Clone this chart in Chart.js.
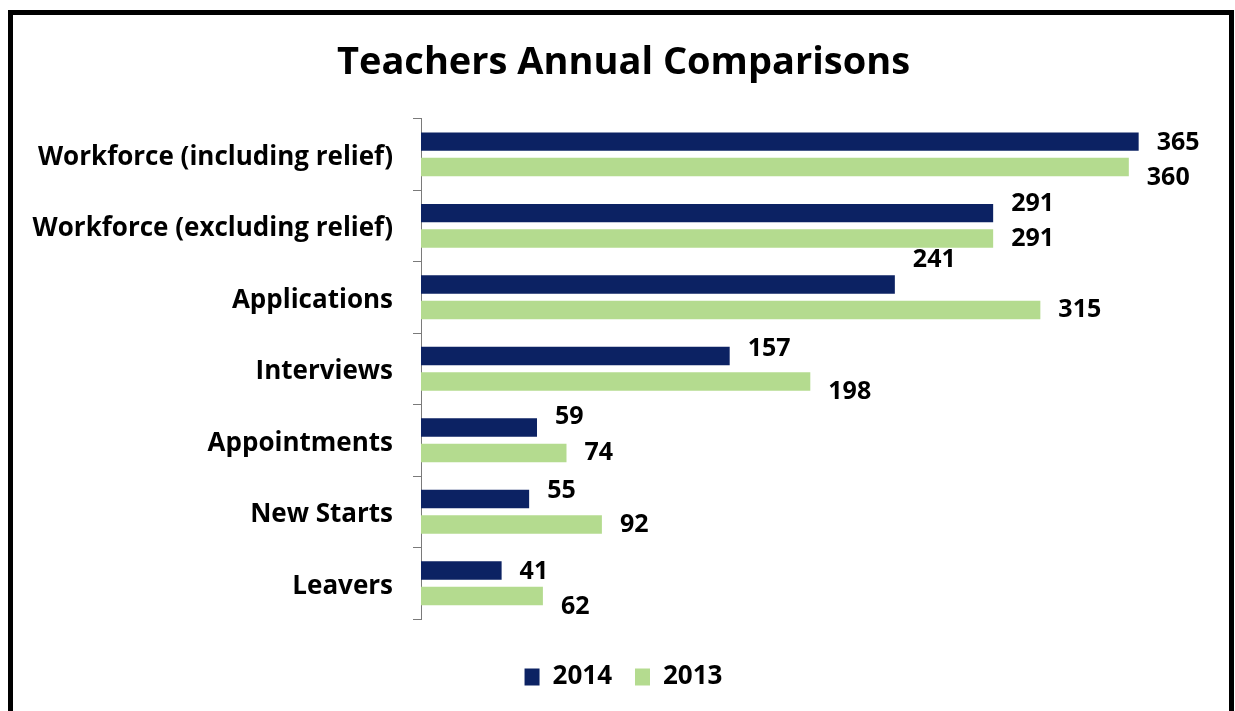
<!DOCTYPE html>
<html>
<head>
<meta charset="utf-8">
<title>Teachers Annual Comparisons</title>
<script src="https://cdn.jsdelivr.net/npm/chart.js@4.4.0/dist/chart.umd.min.js"></script>
<style>
  html, body { margin: 0; padding: 0; background: #fff; }
  #wrap { position: relative; width: 1235px; height: 711px; overflow: hidden; background: #fff; }
  #frame { position: absolute; left: 8px; top: 10px; width: 1226px; height: 740px; box-sizing: border-box; border: 5px solid #000; pointer-events: none; }
  canvas { position: absolute; left: 0; top: 0; }
</style>
</head>
<body>
<div id="wrap">
  <canvas id="teachersChart" width="1235" height="711"></canvas>
  <div id="frame"></div>
</div>
<script>
const categories = [
  'Workforce (including relief)',
  'Workforce (excluding relief)',
  'Applications',
  'Interviews',
  'Appointments',
  'New Starts',
  'Leavers'
];
const values2014 = [365, 291, 241, 157, 59, 55, 41];
const values2013 = [360, 291, 315, 198, 74, 92, 62];

const NAVY = '#0c2263';
const GREEN = '#b4db8f';
const FONT = '"Open Sans", "Liberation Sans", sans-serif';
const AXIS_X = 421; // left edge of the plot, category labels sit left of it

// vertical nudges for the value labels so they don't collide
const labelShift = [
  [1, -9, -25, -7, -11, -8, 1],
  [11, 0, 0, 10, 0, 0, 11]
];

const valueLabels = {
  id: 'valueLabels',
  afterDatasetsDraw(chart) {
    const ctx = chart.ctx;
    ctx.save();
    ctx.font = 'bold 25px ' + FONT;
    ctx.fillStyle = '#000';
    ctx.textAlign = 'left';
    ctx.textBaseline = 'middle';
    chart.data.datasets.forEach((ds, di) => {
      chart.getDatasetMeta(di).data.forEach((bar, i) => {
        ctx.fillText(String(ds.data[i]), bar.x + 18, bar.y + labelShift[di][i]);
      });
    });
    ctx.restore();
  }
};

function drawChart() {
  new Chart(document.getElementById('teachersChart'), {
    type: 'bar',
    data: {
      labels: categories,
      datasets: [
        { label: '2014', data: values2014, backgroundColor: NAVY, categoryPercentage: 0.712, barPercentage: 0.725 },
        { label: '2013', data: values2013, backgroundColor: GREEN, categoryPercentage: 0.712, barPercentage: 0.725 }
      ]
    },
    options: {
      indexAxis: 'y',
      responsive: false,
      animation: false,
      // negative right padding nudges the title and legend a little to the right
      layout: { padding: { left: 0, right: -12, top: 0, bottom: 11 } },
      plugins: {
        title: {
          display: true,
          text: 'Teachers Annual Comparisons',
          color: '#000',
          font: { family: FONT, size: 38, weight: 'bold' },
          padding: { top: 40, bottom: 33 }
        },
        legend: {
          position: 'bottom',
          labels: {
            color: '#000',
            font: { family: FONT, size: 26, weight: 'bold' },
            boxWidth: 15,
            boxHeight: 17,
            padding: 23
          }
        },
        tooltip: { enabled: false }
      },
      scales: {
        x: {
          min: 0,
          max: 414,
          grid: { display: false },
          border: { display: false },
          ticks: { display: false },
          afterFit: s => { s.height = 22; }
        },
        y: {
          grid: { drawOnChartArea: false, drawTicks: true, tickLength: 8, color: '#7a7a7a', offset: true },
          border: { display: true, color: '#7a7a7a', width: 1 },
          ticks: { color: '#000', font: { family: FONT, size: 26, weight: 'bold' }, padding: 20, labelOffset: 3 },
          afterFit: s => { s.width = AXIS_X; }
        }
      }
    },
    plugins: [valueLabels]
  });
}

Promise.all([
  document.fonts.load('bold 26px "Open Sans"'),
  document.fonts.load('bold 38px "Open Sans"')
]).then(drawChart, drawChart);
</script>
</body>
</html>
